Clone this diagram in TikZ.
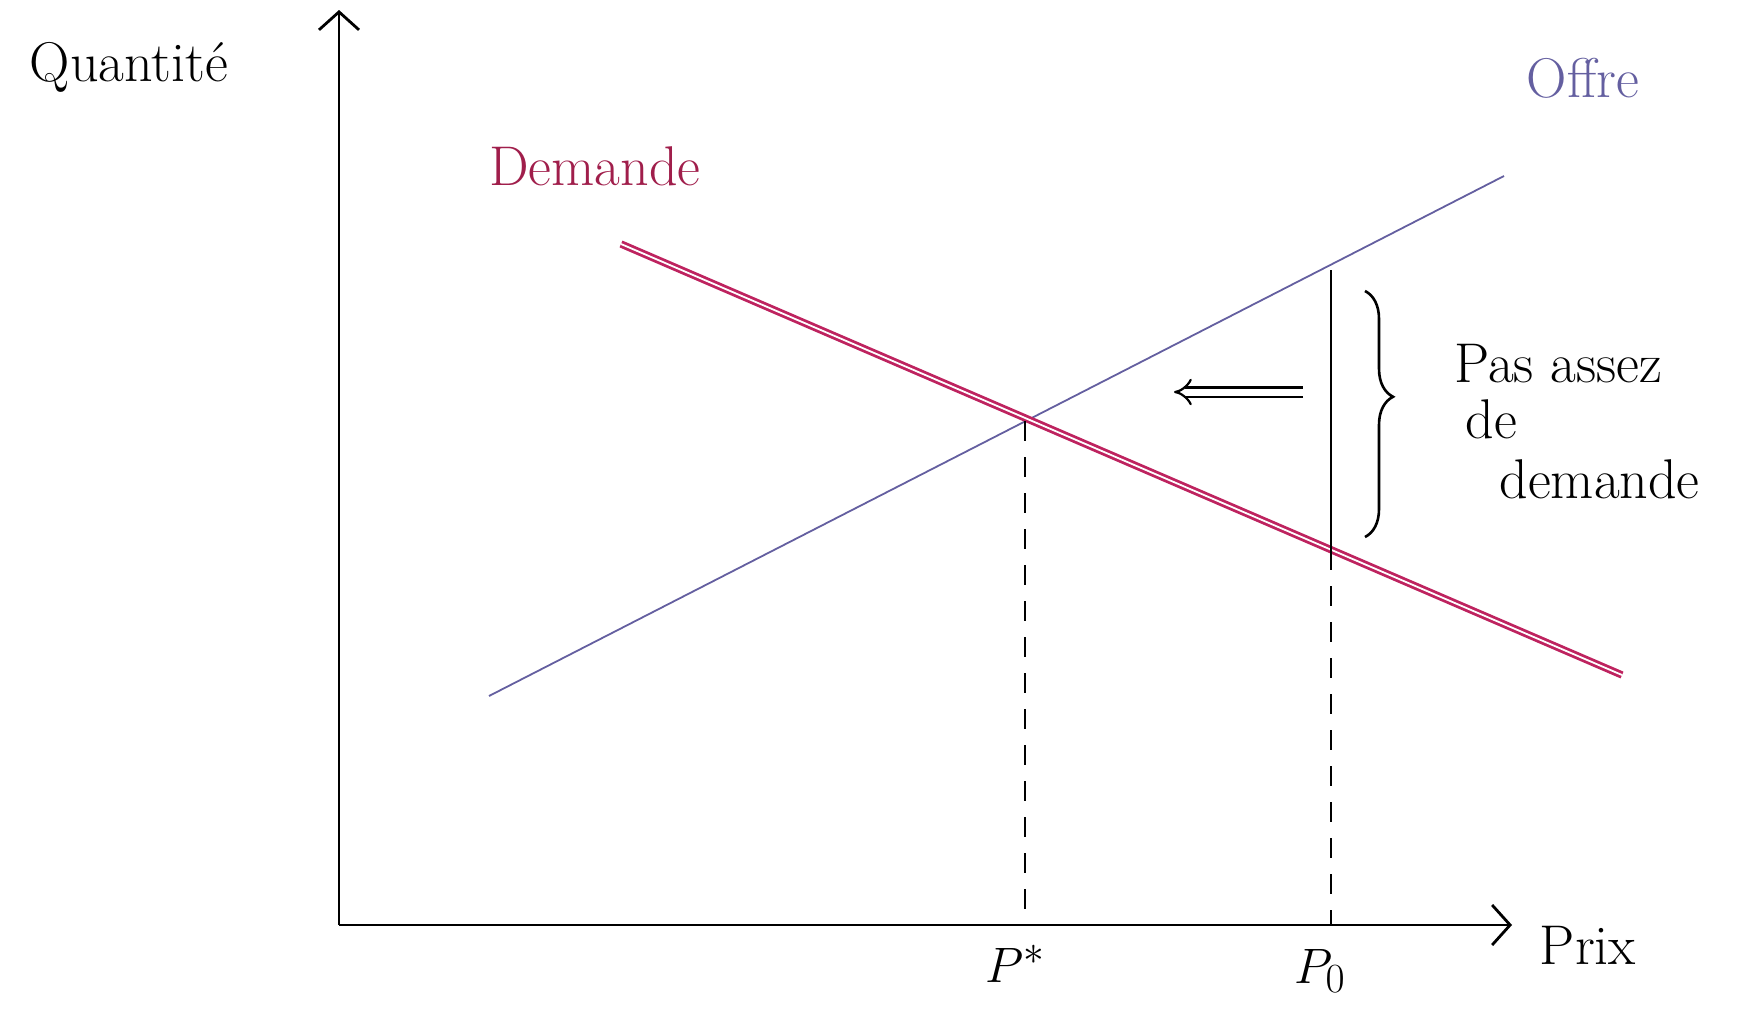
\documentclass[tikz,border=0pt]{standalone}
\usetikzlibrary{arrows.meta,decorations.pathreplacing}
\definecolor{offre}{RGB}{100,95,160}
\definecolor{dem}{RGB}{190,35,95}
\definecolor{demtxt}{RGB}{160,30,75}
\begin{document}
\begin{tikzpicture}[x=0.5pt,y=-0.5pt,
  axis/.style={line width=1.4pt,-{Straight Barb[length=9pt,width=20pt,line width=1.4pt]}},
  lbl/.style={font=\fontsize{28}{32}\selectfont, inner sep=0pt},
  supply/.style={draw=offre, line width=0.9pt},
  demand/.style={draw=dem, line width=1.4pt, double=white, double distance=0.9pt},
  guide/.style={line width=1.1pt, dash pattern=on 10pt off 8pt},
  solidguide/.style={line width=1.2pt}]
\useasboundingbox (0,0) rectangle (1754,1017);
% axes
\coordinate (O) at (339,925);
\coordinate (Ytop) at (339,10);
\coordinate (Xend) at (1512,925);
\draw[axis] (O) -- (Ytop);
\draw[axis] (O) -- (Xend);
% curves
\coordinate (S1) at (489,696);
\coordinate (S2) at (1504,176);
\coordinate (D1) at (621,244);
\coordinate (D2) at (1622,675);
\draw[supply] (S1) -- (S2);
\draw[demand] (D1) -- (D2);
% equilibrium
\coordinate (E) at (1025,421);
\coordinate (Ex) at (1025,925);
\draw[guide] (E) -- (Ex);
% P0 line
\coordinate (Ps) at (1331,270);
\coordinate (Pd) at (1331,550);
\coordinate (Px) at (1331,925);
\draw[solidguide] (Ps) -- (Pd);
\draw[guide] (Pd) -- (Px);
% brace
\coordinate (Bt) at (1365,291);
\coordinate (Bb) at (1365,537);
\draw[line width=1.3pt, decorate, decoration={brace, amplitude=14pt, aspect=0.43}] (Bt) -- (Bb);
% arrow
\coordinate (Ar) at (1303,392);
\coordinate (Al) at (1174,392);
\draw[line width=1.1pt, double, double distance=3.5pt, -{Implies}] (Ar) -- (Al);
% labels
\node[lbl] (quant) at (129,67) {Quantité};
\node[lbl, text=offre] (offre) at (1583,78) {Offre};
\node[lbl, text=demtxt] (demande) at (595,166) {Demande};
\node[lbl] (prix) at (1588,945) {Prix};
\node[lbl] (pstar) at (1015,964) {$P^*$};
\node[lbl] (pzero) at (1320,971) {$P_0$};
\node[lbl, anchor=west] (t1) at (1454,364) {Pas assez};
\node[lbl, anchor=west] (t2) at (1465,419) {de};
\node[lbl, anchor=west] (t3) at (1499,479) {demande};
\end{tikzpicture}
\end{document}
